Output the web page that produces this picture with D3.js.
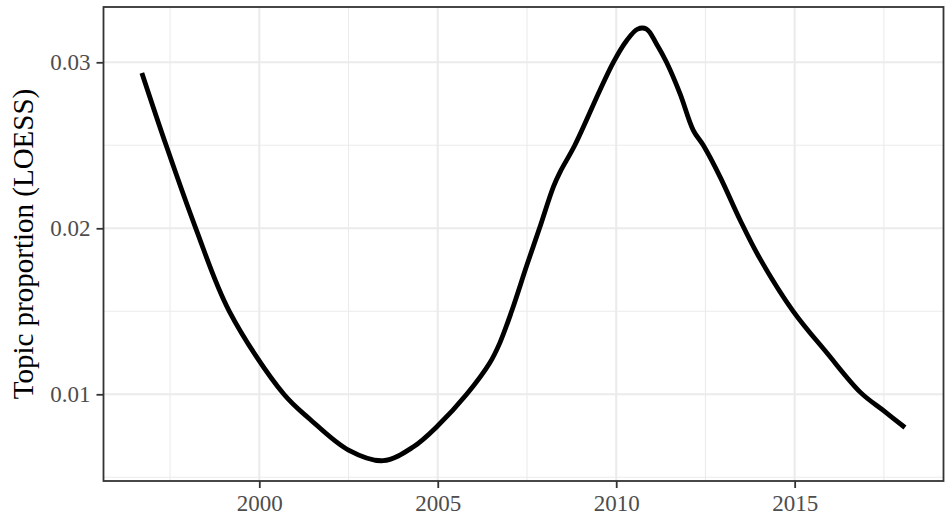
<!DOCTYPE html>
<html>
<head>
<meta charset="utf-8">
<script src="https://cdn.jsdelivr.net/npm/d3@7"></script>
<style>
  body { margin: 0; background: #fff; }
  svg { display: block; font-family: "Liberation Serif", "Times New Roman", serif; }
</style>
</head>
<body>
<div id="chart"></div>
<script>
// LOESS curve
const years = [1996.71, 1997.39, 1998.22, 1999.16, 2000.69, 2001.42, 2002.5, 2003.47, 2004.32,
  2005.0, 2005.81, 2006.46, 2006.74, 2007.07, 2007.5, 2007.85, 2008.24, 2008.43, 2008.84,
  2009.54, 2009.92, 2010.29, 2010.6, 2010.85, 2011.13, 2011.41, 2011.79, 2012.16, 2012.44,
  2012.91, 2013.47, 2014.02, 2014.96, 2015.9, 2016.85, 2017.5, 2018.09];
const proportions = [0.02936, 0.0250, 0.0200, 0.0150, 0.0100, 0.0085, 0.00664, 0.0060, 0.00684,
  0.0081, 0.0100, 0.0119, 0.0131, 0.0150, 0.0178, 0.0200, 0.0225, 0.0234, 0.0250,
  0.0283, 0.0300, 0.0313, 0.0320, 0.0320, 0.0311, 0.0300, 0.0281, 0.0259, 0.0250,
  0.0231, 0.0205, 0.0182, 0.0150, 0.0125, 0.0101, 0.0090, 0.0080];

const xTicks = [2000, 2005, 2010, 2015];
const xMinor = [1997.5, 2002.5, 2007.5, 2012.5, 2017.5];
const yTicks = [0.01, 0.02, 0.03];
const yMinor = [0.005, 0.015, 0.025];
const yTitle = "Topic proportion (LOESS)";

const data = years.map((d, i) => ({ year: d, value: proportions[i] }));

const W = 945, H = 515;
const panel = { left: 103.5, right: 943.5, top: 7, bottom: 481 };

const svg = d3.select("#chart").append("svg")
  .attr("width", W)
  .attr("height", H);

const x = d3.scaleLinear()
  .domain([1995.635, 2019.17])
  .range([panel.left, panel.right]);

const y = d3.scaleLinear()
  .domain([0.004777, 0.033331])
  .range([panel.bottom, panel.top]);

// grid
const grid = svg.append("g");
grid.selectAll(".vminor").data(xMinor).enter().append("line")
  .attr("x1", d => x(d)).attr("x2", d => x(d))
  .attr("y1", panel.top).attr("y2", panel.bottom)
  .attr("stroke", "#ebebeb").attr("stroke-width", 1.1);
grid.selectAll(".hminor").data(yMinor).enter().append("line")
  .attr("x1", panel.left).attr("x2", panel.right)
  .attr("y1", d => y(d)).attr("y2", d => y(d))
  .attr("stroke", "#ebebeb").attr("stroke-width", 1.1);
grid.selectAll(".vmajor").data(xTicks).enter().append("line")
  .attr("x1", d => x(d)).attr("x2", d => x(d))
  .attr("y1", panel.top).attr("y2", panel.bottom)
  .attr("stroke", "#ebebeb").attr("stroke-width", 2.1);
grid.selectAll(".hmajor").data(yTicks).enter().append("line")
  .attr("x1", panel.left).attr("x2", panel.right)
  .attr("y1", d => y(d)).attr("y2", d => y(d))
  .attr("stroke", "#ebebeb").attr("stroke-width", 2.1);

// the curve
svg.append("path")
  .datum(data)
  .attr("fill", "none")
  .attr("stroke", "#000")
  .attr("stroke-width", 4.8)
  .attr("stroke-linejoin", "round")
  .attr("d", d3.line()
    .x(d => x(d.year))
    .y(d => y(d.value))
    .curve(d3.curveCatmullRom.alpha(0.5))
  );

// panel border
svg.append("rect")
  .attr("x", panel.left).attr("y", panel.top)
  .attr("width", panel.right - panel.left)
  .attr("height", panel.bottom - panel.top)
  .attr("fill", "none")
  .attr("stroke", "#333333")
  .attr("stroke-width", 1.8);

// axes
const xAxis = svg.append("g")
  .attr("transform", `translate(0,${panel.bottom})`)
  .call(d3.axisBottom(x).tickValues(xTicks).tickFormat(d3.format("d")).tickSize(7).tickPadding(6));

const yAxis = svg.append("g")
  .attr("transform", `translate(${panel.left},0)`)
  .call(d3.axisLeft(y).tickValues(yTicks).tickFormat(d3.format(".2f")).tickSize(7).tickPadding(6));

[xAxis, yAxis].forEach(g => {
  g.select(".domain").remove();
  g.selectAll(".tick line").attr("stroke", "#333333").attr("stroke-width", 1.8);
  g.selectAll(".tick text")
    .attr("fill", "#4d4d4d")
    .style("font-family", "'Liberation Serif', 'Times New Roman', serif")
    .style("font-size", "23px");
});
xAxis.selectAll(".tick text").attr("dy", "0.72em");

// y title
svg.append("text")
  .attr("transform", `translate(33,${(panel.top + panel.bottom) / 2}) rotate(-90)`)
  .attr("text-anchor", "middle")
  .attr("fill", "#000")
  .style("font-size", "29px")
  .text(yTitle);
</script>
</body>
</html>
